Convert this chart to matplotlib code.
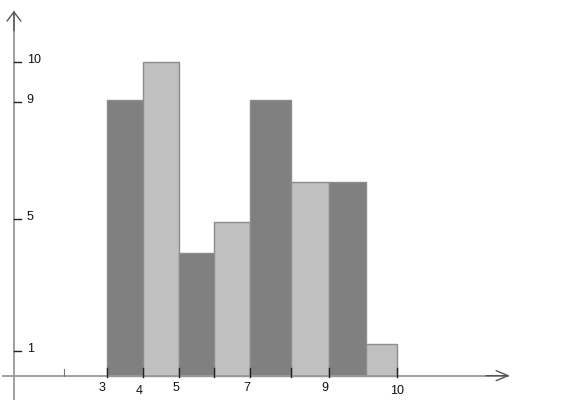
import matplotlib
matplotlib.use("Agg")
import matplotlib.pyplot as plt

# histogram bins (x units: one bin ~ one unit)
bin_edges = [3.0, 4.0, 5.0, 6.0, 7.0, 8.15, 9.2, 10.25, 11.1]
heights = [8.8, 10.0, 3.9, 4.9, 8.8, 6.18, 6.18, 1.0]
bar_colors = ["#808080", "#c0c0c0"]

# x ticks sit on the bin edges (no tick between the last two bars)
xtick_pos = [3.0, 4.0, 5.0, 6.0, 7.0, 8.15, 9.2, 11.1]
xminor_pos = [1.8]
xlabel_text = ["3", "4", "5", "7", "9", "10"]
xlabel_pos = [2.86, 3.89, 4.92, 6.9, 9.08, 11.1]
xlabel_drop = [11, 14, 11, 11, 11, 14]   # pixels below the axis

ytick_pos = [10.0, 8.73, 5.0, 0.79]
ytick_text = ["10", "9", "5", "1"]

y_axis_x = 0.39

plt.rcParams["font.family"] = ["Liberation Sans", "DejaVu Sans"]

fig = plt.figure(figsize=(5.63, 4.14), dpi=100)
ax = fig.add_axes([0, 0, 1, 1])
ax.set_xlim(0.0, 15.75)
ax.set_ylim(-1.19, 12.01)
ax.axis("off")

# bars
for i, h in enumerate(heights):
    left = bin_edges[i]
    width = bin_edges[i + 1] - left
    ax.bar(left, h, width=width, align="edge", color=bar_colors[i % 2],
           edgecolor="#8c8c8c", linewidth=1.0, zorder=2)

# axes with open arrow heads
axis_col = "#999999"
ax.plot([0.08, 14.2], [0, 0], color=axis_col, lw=1.3, zorder=3)
ax.plot([y_axis_x, y_axis_x], [-0.74, 11.6], color=axis_col, lw=1.3, zorder=3)
ax.annotate("", xy=(14.26, 0), xytext=(13.6, 0),
            arrowprops=dict(arrowstyle="->,head_length=0.85,head_width=0.36",
                            mutation_scale=10, color="#555555", lw=1.0,
                            shrinkA=0, shrinkB=0))
ax.annotate("", xy=(y_axis_x, 11.63), xytext=(y_axis_x, 11.0),
            arrowprops=dict(arrowstyle="->,head_length=0.65,head_width=0.5",
                            mutation_scale=10, color="#555555", lw=1.0,
                            shrinkA=0, shrinkB=0))

# x ticks and labels
for xp in xtick_pos:
    ax.plot([xp, xp], [-0.05, 0.26], color="#222222", lw=1.0, zorder=4)
for xp in xminor_pos:
    ax.plot([xp, xp], [0, 0.22], color="#777777", lw=0.8, zorder=4)
for txt, xp, drop in zip(xlabel_text, xlabel_pos, xlabel_drop):
    ax.annotate(txt, xy=(xp, 0), xytext=(0, -drop * 0.72),
                textcoords="offset points", ha="center", va="center",
                fontsize=9, color="#111111")

# y ticks and labels
for yp, txt in zip(ytick_pos, ytick_text):
    ax.plot([y_axis_x, y_axis_x + 0.2], [yp, yp], color="#222222", lw=1.0, zorder=4)
    ax.annotate(txt, xy=(y_axis_x, yp), xytext=(9.2, 2.0),
                textcoords="offset points", ha="left", va="center",
                fontsize=9, color="#111111")

fig.savefig("out.png", dpi=100)
